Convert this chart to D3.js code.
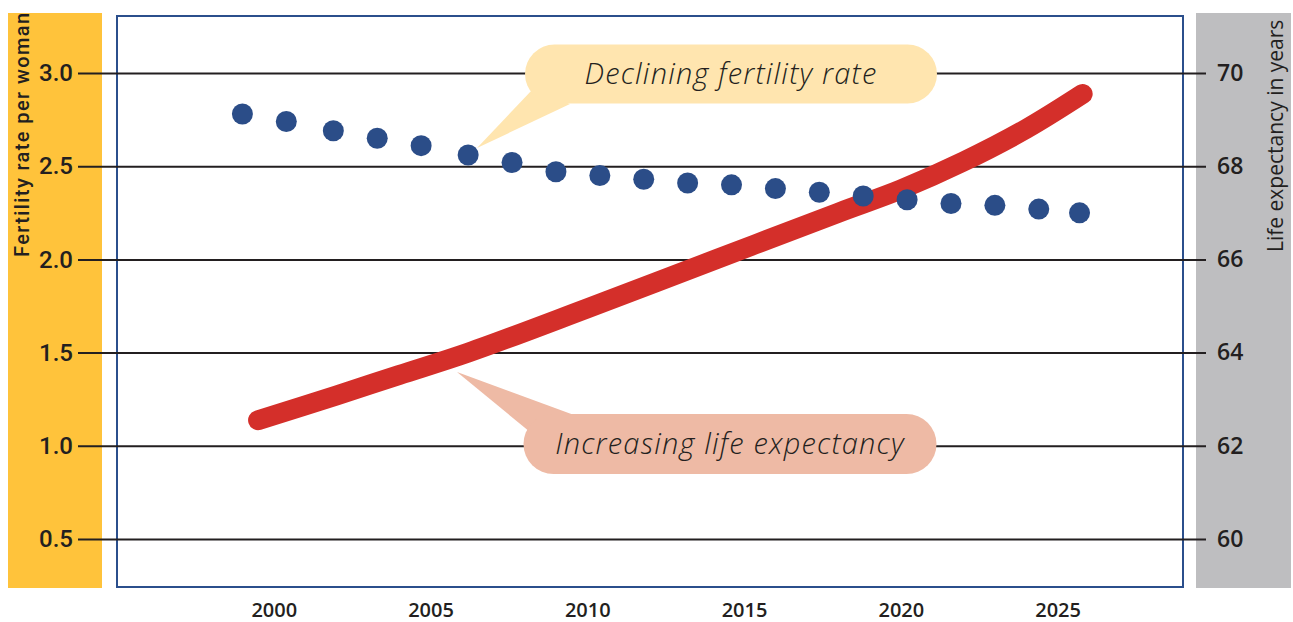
<!DOCTYPE html>
<html><head><meta charset="utf-8">
<script src="https://cdn.jsdelivr.net/npm/d3@7"></script>
<style>html,body{margin:0;padding:0;background:#fff;}svg{display:block;}</style>
</head><body>
<script>
// ---- data ----
const xTicks = [2000, 2005, 2010, 2015, 2020, 2025];
const leftTicks = [0.5, 1.0, 1.5, 2.0, 2.5, 3.0];
const rightTicks = [60, 62, 64, 66, 68, 70];
const fertYears = [1999.0, 2000.4, 2001.9, 2003.3, 2004.7, 2006.2, 2007.6, 2009.0, 2010.4, 2011.8, 2013.2, 2014.6, 2016.0, 2017.4, 2018.8, 2020.2, 2021.6, 2023.0, 2024.4, 2025.7];
const fertility = [2.78, 2.74, 2.69, 2.65, 2.61, 2.56, 2.52, 2.47, 2.45, 2.43, 2.41, 2.40, 2.38, 2.36, 2.34, 2.32, 2.30, 2.29, 2.27, 2.25];
const lifeYears = [1999.5, 2002, 2004, 2006.2, 2010, 2014.1, 2018, 2020, 2022, 2024, 2025.8];
const lifeExp = [62.55, 63.08, 63.52, 64.0, 64.95, 66.0, 67.0, 67.5, 68.1, 68.8, 69.55];
const leftTitle = "Fertility rate per woman";
const rightTitle = "Life expectancy in years";
const noteFert = "Declining fertility rate";
const noteLife = "Increasing life expectancy";

const W = 1293, H = 622;
const svg = d3.select("body").append("svg").attr("width", W).attr("height", H);

const x = d3.scaleLinear().domain([1995, 2029]).range([117, 1183]);
const yL = d3.scaleLinear().domain([0.5, 3.0]).range([539, 73]);
const yR = d3.scaleLinear().domain([60, 70]).range([539, 73]);

// side bands
const defs = svg.append("defs");
defs.append("clipPath").attr("id", "clipL").append("rect").attr("x", 8).attr("y", 13).attr("width", 94).attr("height", 575);
defs.append("clipPath").attr("id", "clipR").append("rect").attr("x", 1196).attr("y", 13).attr("width", 95).attr("height", 575);
svg.append("rect").attr("x", 8).attr("y", 13).attr("width", 94).attr("height", 575).attr("fill", "#FFC33B");
svg.append("rect").attr("x", 1196).attr("y", 13).attr("width", 95).attr("height", 575).attr("fill", "#BEBEC0");

// plot frame
svg.append("rect").attr("x", 117).attr("y", 16).attr("width", 1066).attr("height", 571)
  .attr("fill", "none").attr("stroke", "#2B4F8C").attr("stroke-width", 2);

// left axis with gridlines
const gL = svg.append("g").attr("transform", "translate(78,0)")
  .call(d3.axisLeft(yL).tickValues(leftTicks).tickSize(-1128).tickPadding(5).tickFormat(d3.format(".1f")));
gL.select(".domain").remove();
gL.selectAll(".tick line").attr("stroke", "#231F20").attr("stroke-width", 2);
gL.selectAll(".tick text").attr("fill", "#231F20").style("font-family", "Roboto, sans-serif")
  .style("font-size", "24px").style("font-weight", "500");

// right axis
const gR = svg.append("g").attr("transform", "translate(1206,0)")
  .call(d3.axisRight(yR).tickValues(rightTicks).tickSize(0).tickPadding(11));
gR.select(".domain").remove();
gR.selectAll(".tick text").attr("fill", "#231F20").style("font-family", "'Open Sans', sans-serif")
  .style("font-size", "23px").style("font-weight", "600");

// bottom axis
const gB = svg.append("g").attr("transform", "translate(0,603)")
  .call(d3.axisBottom(x).tickValues(xTicks).tickSize(0).tickPadding(0).tickFormat(d3.format("d")));
gB.select(".domain").remove();
gB.selectAll(".tick text").attr("fill", "#231F20").style("font-family", "'Open Sans', sans-serif")
  .style("font-size", "20px").style("font-weight", "600");

// axis titles
svg.append("g").attr("clip-path", "url(#clipL)").append("text")
  .attr("transform", "translate(29,257) rotate(-90)")
  .attr("fill", "#231F20").style("font-family", "Roboto, sans-serif").style("font-size", "20px").style("font-weight", "500")
  .style("letter-spacing", "1.4px")
  .text(leftTitle);
svg.append("g").attr("clip-path", "url(#clipR)").append("text")
  .attr("transform", "translate(1283,252) rotate(-90)")
  .attr("fill", "#231F20").style("font-family", "'Open Sans', sans-serif").style("font-size", "21px").style("font-weight", "500")
  .text(rightTitle);

// callouts
function callout(cx, cy, w, h, fill, tail, label) {
  const g = svg.append("g");
  g.append("path").attr("d", d3.line()(tail)).attr("fill", fill);
  g.append("rect").attr("x", cx - w / 2).attr("y", cy - h / 2).attr("width", w).attr("height", h)
    .attr("rx", h / 2).attr("ry", h / 2).attr("fill", fill);
  g.append("text").attr("x", cx).attr("y", cy).attr("dy", "0.35em").attr("text-anchor", "middle")
    .attr("fill", "#231F20").style("font-family", "'Open Sans', sans-serif").style("font-style", "italic")
    .style("font-size", "29px").style("font-weight", "300").style("letter-spacing", "1.2px").text(label);
}
callout(731, 74, 412, 59, "#FFE5AF", [[532, 90], [477, 148], [570, 104]], noteFert);
callout(730, 444, 413, 60, "#EEBAA5", [[530, 432], [457, 372], [574, 415]], noteLife);

// life expectancy line
const lifeData = lifeYears.map((d, i) => ({ year: d, v: lifeExp[i] }));
svg.append("path").datum(lifeData)
  .attr("d", d3.line().x(d => x(d.year)).y(d => yR(d.v)).curve(d3.curveCatmullRom.alpha(0.5)))
  .attr("fill", "none").attr("stroke", "#D42F2A").attr("stroke-width", 20).attr("stroke-linecap", "round");

// fertility dots
svg.append("g").selectAll("circle").data(fertYears.map((d, i) => ({ year: d, v: fertility[i] })))
  .join("circle").attr("cx", d => x(d.year)).attr("cy", d => yL(d.v)).attr("r", 10.5).attr("fill", "#2B4D88");
</script>
</body></html>
